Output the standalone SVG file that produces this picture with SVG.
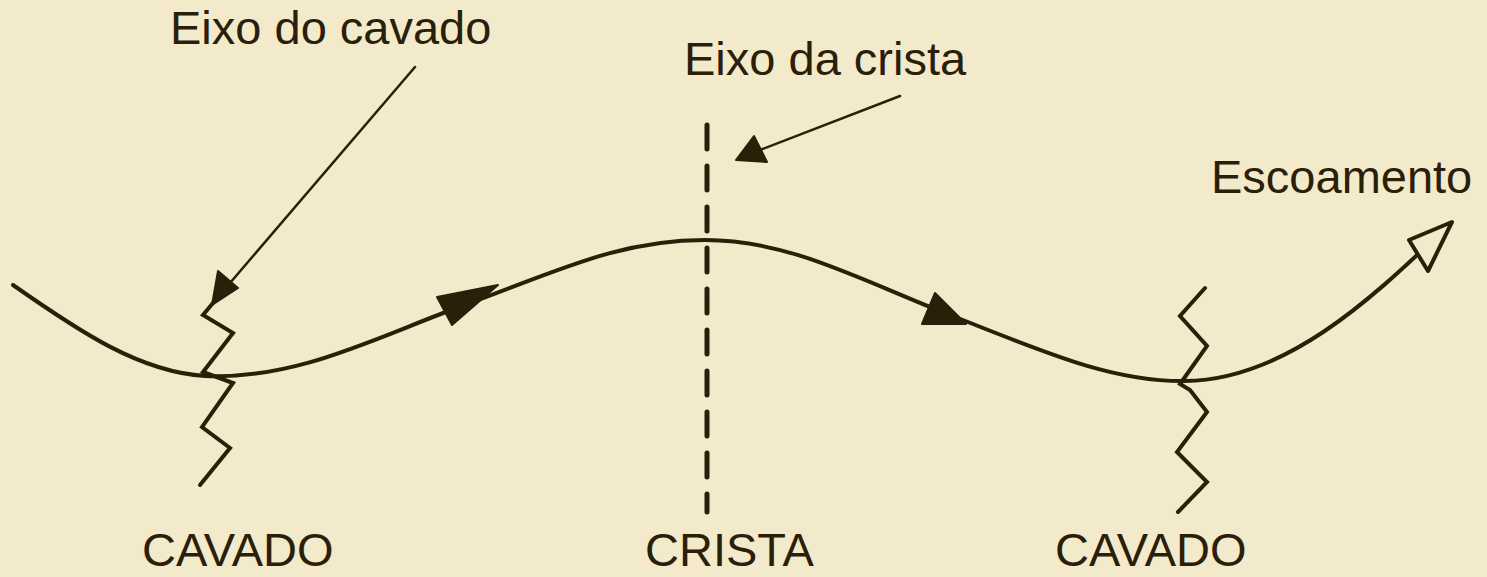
<svg xmlns="http://www.w3.org/2000/svg" width="1487" height="577" viewBox="0 0 1487 577">
<style>
.lbl{font-family:"Liberation Sans",Arial,sans-serif;font-size:47px;fill:#2a200a}
.ln{fill:none;stroke:#2a1f08;stroke-linecap:round;stroke-linejoin:miter}
.fill{fill:#2a1f08;stroke:#2a1f08;stroke-width:2;stroke-linejoin:round}
</style>
<rect width="1487" height="577" fill="#f3e9cb"/>
<g id="connectors">
  <path id="flow" class="ln" stroke-width="4" d="M13,285 C80,332 140,372 205,376 C300,380 380,335 470,303 C560,270 620,240 705,240 C790,240 860,280 950,315 C1040,350 1110,382 1185,381 C1290,380 1380,290 1448,226"/>
  <polygon class="fill" points="437,297 452,325 498,285"/>
  <polygon class="fill" points="935,293 922,324 966,324"/>
  <polygon fill="#f3e9cb" stroke="#2a1f08" stroke-width="4" stroke-linejoin="round" points="1452,222 1409,240 1428,271"/>
  <line class="ln" stroke-width="2.5" x1="415" y1="67" x2="224" y2="290"/>
  <polygon class="fill" points="212,305 218,271 238,288"/>
  <line class="ln" stroke-width="2.5" x1="900" y1="96" x2="760" y2="150"/>
  <polygon class="fill" points="736,160 754,136 767,162"/>
</g>
<g id="cavado-left">
  <polyline class="ln" stroke-width="4" points="213,303 203,315 233,333 203,372 233,383 202,427 230,448 200,485"/>
  <text class="lbl" x="142" y="566">CAVADO</text>
</g>
<g id="crista">
  <line class="ln" stroke-width="5" stroke-linecap="butt" stroke-dasharray="24 17" x1="707" y1="125" x2="707" y2="512"/>
  <text class="lbl" x="645" y="566">CRISTA</text>
</g>
<g id="cavado-right">
  <polyline class="ln" stroke-width="4" points="1205,288 1180,316 1207,346 1180,384 1190,390 1207,412 1177,452 1207,482 1178,512"/>
  <text class="lbl" x="1055" y="566">CAVADO</text>
</g>
<g id="labels">
  <text class="lbl" x="170" y="44">Eixo do cavado</text>
  <text class="lbl" x="684" y="75">Eixo da crista</text>
  <text class="lbl" x="1211" y="193">Escoamento</text>
</g>
</svg>
